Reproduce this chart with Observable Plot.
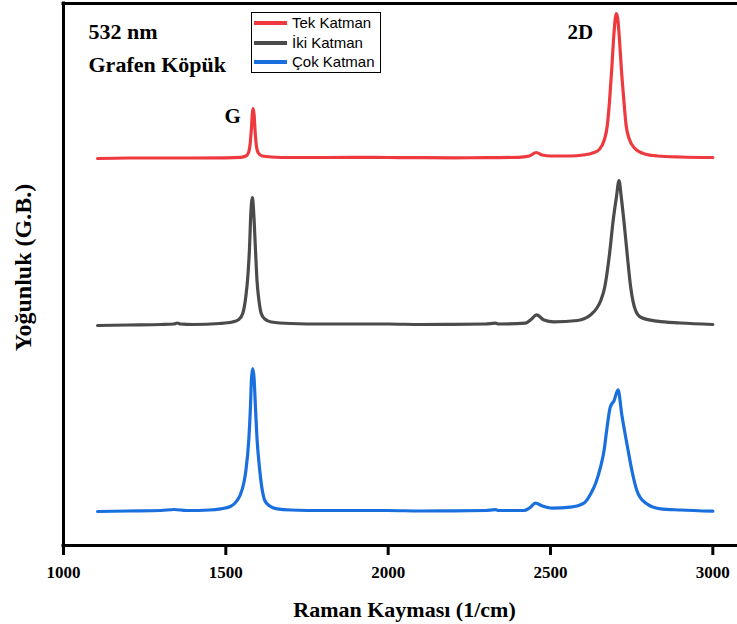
<!DOCTYPE html>
<html><head><meta charset="utf-8">
<script src="https://cdn.jsdelivr.net/npm/d3@7"></script>
<script src="https://cdn.jsdelivr.net/npm/@observablehq/plot@0.6"></script>
<style>
body{margin:0;background:#fff;}
#wrap{position:relative;width:737px;height:624px;}
#legend{position:absolute;left:251px;top:12px;width:128px;height:59px;border:1px solid #000;background:#fff;font-family:"Liberation Sans",Arial,sans-serif;font-size:15px;color:#000;}
.row{position:absolute;left:0;height:20px;width:128px;}
.sw{position:absolute;left:2px;top:8px;width:33px;height:4px;}
.lb{position:absolute;left:40px;top:0;line-height:20px;white-space:nowrap;}
</style></head>
<body><div id="wrap"></div>
<script>
// Series names and colours
const seriesNames = ["Tek Katman", "İki Katman", "Çok Katman"];
const seriesColors = ["#ee3a3f", "#4b4b4b", "#1a6fdf"];
const xTicks = [1000, 1500, 2000, 2500, 3000];

// Tek Katman (stacked intensity, a.u.)
const waveRed = [1105,1200,1300,1400,1500,1545,1562,1570,1575,1579,1582,1584,1587,1590,1594,1600,1612,1640,1700,1800,1900,2000,2100,2200,2300,2400,2435,2456,2475,2500,2560,2600,2630,2650,2665,2675,2682,2689,2695,2700,2703,2707,2712,2718,2726,2733,2742,2760,2790,2830,2900,3000];
const intRed  = [387,387.5,387.5,387.5,387.7,388.2,389.5,393,402,418,433,437,431,415,400,392.5,389.5,388.5,388,388,388.2,388,387.8,387.7,387.8,388.2,389.5,393,390.5,389.5,389.5,390.5,392.5,396,405,420,445,478,510,528,532,527,508,478,445,420,407,397,391.5,389.5,388.5,388];

// İki Katman
const waveGray = [1105,1200,1300,1340,1350,1360,1400,1480,1520,1540,1552,1562,1568,1573,1577,1582,1586,1591,1596,1602,1609,1620,1640,1700,1800,1900,2000,2100,2200,2300,2330,2340,2423,2440,2457,2480,2510,2583,2624,2644,2655,2667,2682,2693,2703,2711,2718,2726,2736,2747,2762,2778,2829,2900,3000];
const intGray  = [220,220.5,221,221.5,222.5,221.5,221,222,223.5,226,232,250,270,298,332,348,332,298,265,245,232,226.5,223.5,222,221.5,221.5,221.5,221,221.2,221.5,222.3,221.5,222.3,226,230.7,225.5,223.7,225,230.7,238,245,258.3,292,325,348.3,365,348.3,325,292,258.3,235,228.3,224.3,222.5,221];

// Çok Katman
const waveBlue = [1105,1200,1300,1340,1380,1450,1484,1514,1535,1545,1555,1561,1571,1576,1579,1583,1587,1591,1596,1603,1610,1620,1635,1658,1700,1800,1900,2000,2100,2200,2300,2330,2340,2418,2435,2454,2475,2505,2562,2603,2624,2640,2654,2665,2673,2684,2696,2708,2720,2738,2752,2766,2790,2839,2900,3000];
const intBlue  = [34,34.5,35,36,35,35.5,36.7,39,45,51,62,73,107,140,167,177,167,140,107,80,60,45,39.5,36.7,35.5,35,35,35,34.5,34.7,35,35.8,35,35,37.5,42.3,39.5,37.3,38.3,42.3,51.7,63,78.3,95,115,138.3,145,155.7,130,97,73,55,43.3,36.7,35.5,34.3];

const toRows = (w, v, s) => w.map((x, i) => ({x, y: v[i], s}));
const data = [
  ...toRows(waveRed, intRed, seriesNames[0]),
  ...toRows(waveGray, intGray, seriesNames[1]),
  ...toRows(waveBlue, intBlue, seriesNames[2])
];

const serif = '"Liberation Serif","Times New Roman",serif';
const chart = Plot.plot({
  width: 737, height: 624,
  marginLeft: 63, marginRight: 0, marginTop: 3, marginBottom: 79,
  x: {domain: [1000, 3076]},
  y: {domain: [0, 542], axis: null},
  color: {domain: seriesNames, range: seriesColors},
  style: {fontFamily: serif, background: "white", color: "black"},
  marks: [
    Plot.line(data, {x: "x", y: "y", z: "s", stroke: "s", strokeWidth: 3.2, curve: "monotone-x", strokeLinejoin: "round"}),
    Plot.ruleX([1000], {strokeWidth: 3, strokeLinecap: "square"}),
    Plot.ruleY([0], {strokeWidth: 3, strokeLinecap: "square"}),
    Plot.ruleY([542], {strokeWidth: 3, strokeLinecap: "square"}),
    Plot.axisX({ticks: xTicks, tickSize: 10, tickPadding: 10, strokeWidth: 3, fontSize: 17, fontWeight: "bold", label: null, tickFormat: d => String(d)}),
    Plot.text(["Raman Kayması (1/cm)"], {frameAnchor: "bottom", textAnchor: "middle", lineAnchor: "bottom", dx: 4, dy: 71.7, fontSize: 22, fontWeight: "bold"}),
    Plot.text(["Yoğunluk (G.B.)"], {frameAnchor: "left", textAnchor: "middle", lineAnchor: "bottom", rotate: -90, dx: -33, dy: -7, fontSize: 24, fontWeight: "bold"}),
    Plot.text(["532 nm"], {x: 1077, y: 507, textAnchor: "start", lineAnchor: "bottom", fontSize: 22, fontWeight: "bold"}),
    Plot.text(["Grafen Köpük"], {x: 1077, y: 474, textAnchor: "start", lineAnchor: "bottom", fontSize: 22, fontWeight: "bold"}),
    Plot.text(["G"], {x: 1496, y: 422.3, textAnchor: "start", lineAnchor: "bottom", fontSize: 21, fontWeight: "bold"}),
    Plot.text(["2D"], {x: 2552, y: 506.7, textAnchor: "start", lineAnchor: "bottom", fontSize: 21, fontWeight: "bold"})
  ]
});
const wrap = document.getElementById("wrap");
wrap.appendChild(chart);

// Legend
const leg = document.createElement("div");
leg.id = "legend";
const rowTops = [0, 19.5, 39];
seriesNames.forEach((name, i) => {
  const r = document.createElement("div");
  r.className = "row";
  r.style.top = rowTops[i] + "px";
  const sw = document.createElement("div");
  sw.className = "sw";
  sw.style.background = seriesColors[i];
  const lb = document.createElement("div");
  lb.className = "lb";
  lb.textContent = name;
  r.appendChild(sw); r.appendChild(lb);
  leg.appendChild(r);
});
wrap.appendChild(leg);
</script>
</body></html>
